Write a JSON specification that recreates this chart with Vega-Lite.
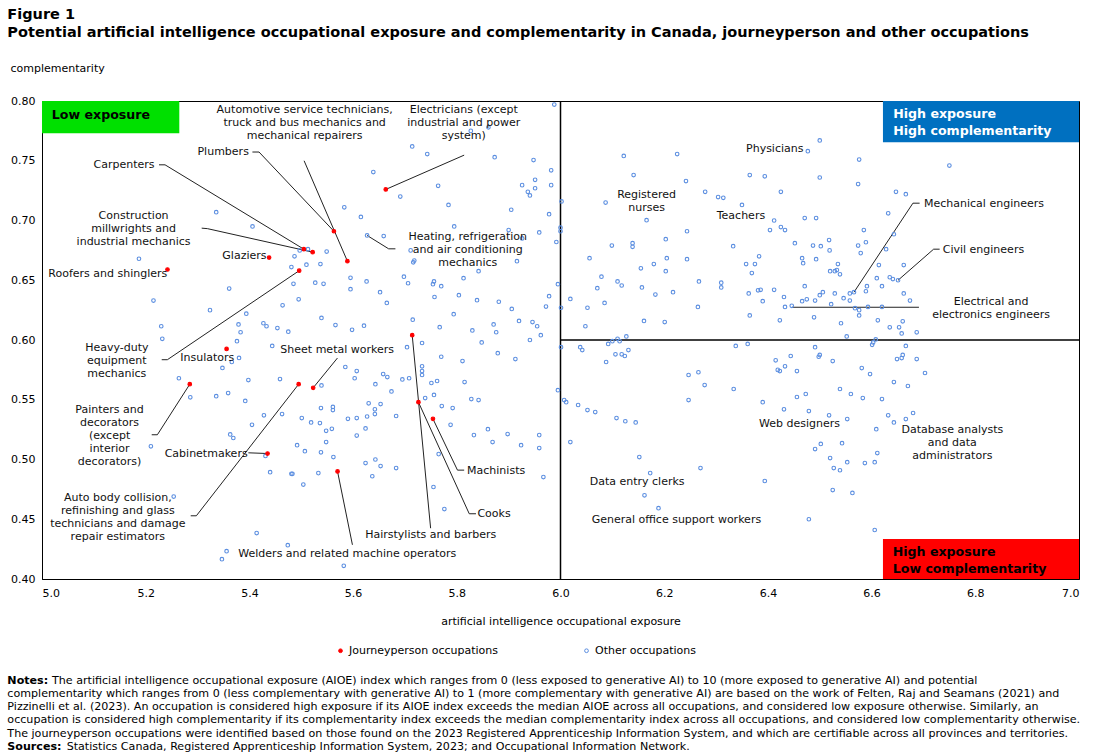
{
"$schema":"https://vega.github.io/schema/vega-lite/v6.json",
"width":1037,"height":478,
"autosize":{"type":"none"},
"padding":{"left":42,"top":101,"right":18,"bottom":177},
"background":"white",
"config":{"font":"DejaVu Sans","view":{"stroke":"#000","strokeWidth":1},
 "axis":{"labelFont":"DejaVu Sans","titleFont":"DejaVu Sans","labelFontSize":11,"titleFontSize":11,"labelColor":"#000","titleColor":"#000","titleFontWeight":"normal","gridColor":"#d9d9d9","gridWidth":1,"domainColor":"#000","ticks":false,"tickSize":0}},
"title":{"text":"Figure 1","subtitle":"Potential artificial  intelligence  occupational  exposure and complementarity in Canada, journeyperson and other occupations","anchor":"start","frame":"bounds","fontSize":14.5,"fontWeight":"bold","color":"#000","subtitleFontSize":14.5,"subtitleFontWeight":"bold","subtitleColor":"#000","subtitleFont":"DejaVu Sans","font":"DejaVu Sans","subtitlePadding":3,"offset":22},
"datasets":{
"points":[
{"aioe":5.639,"comp":0.7405,"type":"Other occupations"},
{"aioe":5.336,"comp":0.707,"type":"Other occupations"},
{"aioe":5.583,"comp":0.711,"type":"Other occupations"},
{"aioe":5.615,"comp":0.703,"type":"Other occupations"},
{"aioe":5.406,"comp":0.695,"type":"Other occupations"},
{"aioe":5.627,"comp":0.6875,"type":"Other occupations"},
{"aioe":5.659,"comp":0.687,"type":"Other occupations"},
{"aioe":5.187,"comp":0.668,"type":"Other occupations"},
{"aioe":5.513,"comp":0.676,"type":"Other occupations"},
{"aioe":5.497,"comp":0.675,"type":"Other occupations"},
{"aioe":5.549,"comp":0.674,"type":"Other occupations"},
{"aioe":5.487,"comp":0.670,"type":"Other occupations"},
{"aioe":5.481,"comp":0.661,"type":"Other occupations"},
{"aioe":5.510,"comp":0.663,"type":"Other occupations"},
{"aioe":5.537,"comp":0.6635,"type":"Other occupations"},
{"aioe":5.595,"comp":0.652,"type":"Other occupations"},
{"aioe":5.626,"comp":0.649,"type":"Other occupations"},
{"aioe":5.485,"comp":0.647,"type":"Other occupations"},
{"aioe":5.527,"comp":0.648,"type":"Other occupations"},
{"aioe":5.543,"comp":0.647,"type":"Other occupations"},
{"aioe":5.595,"comp":0.6425,"type":"Other occupations"},
{"aioe":5.361,"comp":0.643,"type":"Other occupations"},
{"aioe":5.652,"comp":0.640,"type":"Other occupations"},
{"aioe":5.215,"comp":0.633,"type":"Other occupations"},
{"aioe":5.495,"comp":0.634,"type":"Other occupations"},
{"aioe":5.665,"comp":0.631,"type":"Other occupations"},
{"aioe":5.324,"comp":0.625,"type":"Other occupations"},
{"aioe":5.394,"comp":0.622,"type":"Other occupations"},
{"aioe":5.464,"comp":0.629,"type":"Other occupations"},
{"aioe":5.539,"comp":0.6185,"type":"Other occupations"},
{"aioe":5.230,"comp":0.6115,"type":"Other occupations"},
{"aioe":5.379,"comp":0.613,"type":"Other occupations"},
{"aioe":5.427,"comp":0.614,"type":"Other occupations"},
{"aioe":5.433,"comp":0.6115,"type":"Other occupations"},
{"aioe":5.454,"comp":0.610,"type":"Other occupations"},
{"aioe":5.475,"comp":0.607,"type":"Other occupations"},
{"aioe":5.383,"comp":0.6065,"type":"Other occupations"},
{"aioe":5.566,"comp":0.6125,"type":"Other occupations"},
{"aioe":5.598,"comp":0.6085,"type":"Other occupations"},
{"aioe":5.621,"comp":0.612,"type":"Other occupations"},
{"aioe":5.232,"comp":0.601,"type":"Other occupations"},
{"aioe":5.988,"comp":0.797,"type":"Other occupations"},
{"aioe":5.827,"comp":0.775,"type":"Other occupations"},
{"aioe":5.861,"comp":0.778,"type":"Other occupations"},
{"aioe":5.714,"comp":0.762,"type":"Other occupations"},
{"aioe":5.743,"comp":0.7556,"type":"Other occupations"},
{"aioe":5.873,"comp":0.753,"type":"Other occupations"},
{"aioe":5.948,"comp":0.7506,"type":"Other occupations"},
{"aioe":5.982,"comp":0.742,"type":"Other occupations"},
{"aioe":5.951,"comp":0.734,"type":"Other occupations"},
{"aioe":5.926,"comp":0.7296,"type":"Other occupations"},
{"aioe":5.951,"comp":0.727,"type":"Other occupations"},
{"aioe":5.982,"comp":0.7296,"type":"Other occupations"},
{"aioe":5.937,"comp":0.724,"type":"Other occupations"},
{"aioe":5.941,"comp":0.721,"type":"Other occupations"},
{"aioe":5.764,"comp":0.729,"type":"Other occupations"},
{"aioe":5.691,"comp":0.720,"type":"Other occupations"},
{"aioe":5.784,"comp":0.713,"type":"Other occupations"},
{"aioe":5.905,"comp":0.709,"type":"Other occupations"},
{"aioe":6.002,"comp":0.716,"type":"Other occupations"},
{"aioe":5.978,"comp":0.7053,"type":"Other occupations"},
{"aioe":5.795,"comp":0.695,"type":"Other occupations"},
{"aioe":5.900,"comp":0.692,"type":"Other occupations"},
{"aioe":5.926,"comp":0.685,"type":"Other occupations"},
{"aioe":5.959,"comp":0.690,"type":"Other occupations"},
{"aioe":6.000,"comp":0.694,"type":"Other occupations"},
{"aioe":6.000,"comp":0.691,"type":"Other occupations"},
{"aioe":5.992,"comp":0.682,"type":"Other occupations"},
{"aioe":5.711,"comp":0.675,"type":"Other occupations"},
{"aioe":5.718,"comp":0.6665,"type":"Other occupations"},
{"aioe":5.716,"comp":0.665,"type":"Other occupations"},
{"aioe":5.916,"comp":0.666,"type":"Other occupations"},
{"aioe":5.842,"comp":0.6576,"type":"Other occupations"},
{"aioe":5.813,"comp":0.6517,"type":"Other occupations"},
{"aioe":5.698,"comp":0.653,"type":"Other occupations"},
{"aioe":5.706,"comp":0.6475,"type":"Other occupations"},
{"aioe":5.756,"comp":0.649,"type":"Other occupations"},
{"aioe":5.754,"comp":0.6467,"type":"Other occupations"},
{"aioe":5.770,"comp":0.645,"type":"Other occupations"},
{"aioe":5.757,"comp":0.636,"type":"Other occupations"},
{"aioe":5.804,"comp":0.6375,"type":"Other occupations"},
{"aioe":5.839,"comp":0.6333,"type":"Other occupations"},
{"aioe":5.881,"comp":0.632,"type":"Other occupations"},
{"aioe":5.794,"comp":0.6216,"type":"Other occupations"},
{"aioe":5.906,"comp":0.626,"type":"Other occupations"},
{"aioe":5.978,"comp":0.6367,"type":"Other occupations"},
{"aioe":5.972,"comp":0.628,"type":"Other occupations"},
{"aioe":5.995,"comp":0.6467,"type":"Other occupations"},
{"aioe":5.715,"comp":0.617,"type":"Other occupations"},
{"aioe":5.767,"comp":0.6107,"type":"Other occupations"},
{"aioe":5.830,"comp":0.608,"type":"Other occupations"},
{"aioe":5.871,"comp":0.613,"type":"Other occupations"},
{"aioe":5.876,"comp":0.6065,"type":"Other occupations"},
{"aioe":5.920,"comp":0.616,"type":"Other occupations"},
{"aioe":5.946,"comp":0.615,"type":"Other occupations"},
{"aioe":5.955,"comp":0.6115,"type":"Other occupations"},
{"aioe":5.962,"comp":0.604,"type":"Other occupations"},
{"aioe":5.941,"comp":0.600,"type":"Other occupations"},
{"aioe":6.122,"comp":0.754,"type":"Other occupations"},
{"aioe":6.225,"comp":0.7556,"type":"Other occupations"},
{"aioe":6.141,"comp":0.738,"type":"Other occupations"},
{"aioe":6.242,"comp":0.733,"type":"Other occupations"},
{"aioe":6.279,"comp":0.724,"type":"Other occupations"},
{"aioe":6.304,"comp":0.7196,"type":"Other occupations"},
{"aioe":6.314,"comp":0.719,"type":"Other occupations"},
{"aioe":6.087,"comp":0.715,"type":"Other occupations"},
{"aioe":6.166,"comp":0.7003,"type":"Other occupations"},
{"aioe":6.099,"comp":0.679,"type":"Other occupations"},
{"aioe":6.139,"comp":0.681,"type":"Other occupations"},
{"aioe":6.139,"comp":0.678,"type":"Other occupations"},
{"aioe":6.203,"comp":0.6844,"type":"Other occupations"},
{"aioe":6.244,"comp":0.691,"type":"Other occupations"},
{"aioe":6.333,"comp":0.6785,"type":"Other occupations"},
{"aioe":6.056,"comp":0.6685,"type":"Other occupations"},
{"aioe":6.155,"comp":0.660,"type":"Other occupations"},
{"aioe":6.180,"comp":0.6635,"type":"Other occupations"},
{"aioe":6.205,"comp":0.6685,"type":"Other occupations"},
{"aioe":6.203,"comp":0.6576,"type":"Other occupations"},
{"aioe":6.244,"comp":0.6676,"type":"Other occupations"},
{"aioe":6.079,"comp":0.653,"type":"Other occupations"},
{"aioe":6.110,"comp":0.649,"type":"Other occupations"},
{"aioe":6.118,"comp":0.6456,"type":"Other occupations"},
{"aioe":6.071,"comp":0.6434,"type":"Other occupations"},
{"aioe":6.157,"comp":0.644,"type":"Other occupations"},
{"aioe":6.183,"comp":0.638,"type":"Other occupations"},
{"aioe":6.217,"comp":0.640,"type":"Other occupations"},
{"aioe":6.267,"comp":0.649,"type":"Other occupations"},
{"aioe":6.310,"comp":0.648,"type":"Other occupations"},
{"aioe":6.310,"comp":0.644,"type":"Other occupations"},
{"aioe":6.019,"comp":0.6344,"type":"Other occupations"},
{"aioe":6.052,"comp":0.627,"type":"Other occupations"},
{"aioe":6.085,"comp":0.631,"type":"Other occupations"},
{"aioe":6.265,"comp":0.6277,"type":"Other occupations"},
{"aioe":6.048,"comp":0.6115,"type":"Other occupations"},
{"aioe":6.161,"comp":0.616,"type":"Other occupations"},
{"aioe":6.201,"comp":0.615,"type":"Other occupations"},
{"aioe":6.001,"comp":0.627,"type":"Other occupations"},
{"aioe":6.500,"comp":0.767,"type":"Other occupations"},
{"aioe":6.477,"comp":0.758,"type":"Other occupations"},
{"aioe":6.576,"comp":0.751,"type":"Other occupations"},
{"aioe":6.750,"comp":0.746,"type":"Other occupations"},
{"aioe":6.365,"comp":0.738,"type":"Other occupations"},
{"aioe":6.394,"comp":0.737,"type":"Other occupations"},
{"aioe":6.500,"comp":0.736,"type":"Other occupations"},
{"aioe":6.574,"comp":0.7305,"type":"Other occupations"},
{"aioe":6.425,"comp":0.724,"type":"Other occupations"},
{"aioe":6.647,"comp":0.724,"type":"Other occupations"},
{"aioe":6.666,"comp":0.722,"type":"Other occupations"},
{"aioe":6.350,"comp":0.713,"type":"Other occupations"},
{"aioe":6.632,"comp":0.706,"type":"Other occupations"},
{"aioe":6.412,"comp":0.700,"type":"Other occupations"},
{"aioe":6.471,"comp":0.702,"type":"Other occupations"},
{"aioe":6.493,"comp":0.702,"type":"Other occupations"},
{"aioe":6.404,"comp":0.692,"type":"Other occupations"},
{"aioe":6.425,"comp":0.6945,"type":"Other occupations"},
{"aioe":6.433,"comp":0.692,"type":"Other occupations"},
{"aioe":6.585,"comp":0.692,"type":"Other occupations"},
{"aioe":6.643,"comp":0.6885,"type":"Other occupations"},
{"aioe":6.452,"comp":0.681,"type":"Other occupations"},
{"aioe":6.487,"comp":0.679,"type":"Other occupations"},
{"aioe":6.502,"comp":0.6785,"type":"Other occupations"},
{"aioe":6.518,"comp":0.6836,"type":"Other occupations"},
{"aioe":6.519,"comp":0.675,"type":"Other occupations"},
{"aioe":6.574,"comp":0.679,"type":"Other occupations"},
{"aioe":6.589,"comp":0.6818,"type":"Other occupations"},
{"aioe":6.579,"comp":0.6727,"type":"Other occupations"},
{"aioe":6.628,"comp":0.676,"type":"Other occupations"},
{"aioe":6.383,"comp":0.670,"type":"Other occupations"},
{"aioe":6.466,"comp":0.6685,"type":"Other occupations"},
{"aioe":6.468,"comp":0.6643,"type":"Other occupations"},
{"aioe":6.493,"comp":0.6676,"type":"Other occupations"},
{"aioe":6.358,"comp":0.6635,"type":"Other occupations"},
{"aioe":6.375,"comp":0.6635,"type":"Other occupations"},
{"aioe":6.369,"comp":0.656,"type":"Other occupations"},
{"aioe":6.520,"comp":0.6576,"type":"Other occupations"},
{"aioe":6.529,"comp":0.6576,"type":"Other occupations"},
{"aioe":6.533,"comp":0.6585,"type":"Other occupations"},
{"aioe":6.539,"comp":0.655,"type":"Other occupations"},
{"aioe":6.535,"comp":0.6635,"type":"Other occupations"},
{"aioe":6.614,"comp":0.6627,"type":"Other occupations"},
{"aioe":6.662,"comp":0.6627,"type":"Other occupations"},
{"aioe":6.610,"comp":0.6517,"type":"Other occupations"},
{"aioe":6.635,"comp":0.6525,"type":"Other occupations"},
{"aioe":6.641,"comp":0.651,"type":"Other occupations"},
{"aioe":6.651,"comp":0.650,"type":"Other occupations"},
{"aioe":6.363,"comp":0.639,"type":"Other occupations"},
{"aioe":6.381,"comp":0.6416,"type":"Other occupations"},
{"aioe":6.386,"comp":0.642,"type":"Other occupations"},
{"aioe":6.412,"comp":0.642,"type":"Other occupations"},
{"aioe":6.471,"comp":0.645,"type":"Other occupations"},
{"aioe":6.431,"comp":0.636,"type":"Other occupations"},
{"aioe":6.390,"comp":0.6325,"type":"Other occupations"},
{"aioe":6.433,"comp":0.6277,"type":"Other occupations"},
{"aioe":6.446,"comp":0.6286,"type":"Other occupations"},
{"aioe":6.466,"comp":0.6325,"type":"Other occupations"},
{"aioe":6.475,"comp":0.634,"type":"Other occupations"},
{"aioe":6.491,"comp":0.633,"type":"Other occupations"},
{"aioe":6.500,"comp":0.6375,"type":"Other occupations"},
{"aioe":6.506,"comp":0.640,"type":"Other occupations"},
{"aioe":6.522,"comp":0.630,"type":"Other occupations"},
{"aioe":6.529,"comp":0.639,"type":"Other occupations"},
{"aioe":6.546,"comp":0.635,"type":"Other occupations"},
{"aioe":6.558,"comp":0.633,"type":"Other occupations"},
{"aioe":6.558,"comp":0.639,"type":"Other occupations"},
{"aioe":6.566,"comp":0.640,"type":"Other occupations"},
{"aioe":6.568,"comp":0.6266,"type":"Other occupations"},
{"aioe":6.576,"comp":0.625,"type":"Other occupations"},
{"aioe":6.593,"comp":0.6277,"type":"Other occupations"},
{"aioe":6.620,"comp":0.6277,"type":"Other occupations"},
{"aioe":6.589,"comp":0.6408,"type":"Other occupations"},
{"aioe":6.591,"comp":0.645,"type":"Other occupations"},
{"aioe":6.620,"comp":0.645,"type":"Other occupations"},
{"aioe":6.662,"comp":0.639,"type":"Other occupations"},
{"aioe":6.674,"comp":0.633,"type":"Other occupations"},
{"aioe":6.365,"comp":0.6206,"type":"Other occupations"},
{"aioe":6.423,"comp":0.6165,"type":"Other occupations"},
{"aioe":6.489,"comp":0.619,"type":"Other occupations"},
{"aioe":6.541,"comp":0.614,"type":"Other occupations"},
{"aioe":6.576,"comp":0.6206,"type":"Other occupations"},
{"aioe":6.612,"comp":0.6165,"type":"Other occupations"},
{"aioe":6.635,"comp":0.6106,"type":"Other occupations"},
{"aioe":6.653,"comp":0.6106,"type":"Other occupations"},
{"aioe":6.660,"comp":0.6156,"type":"Other occupations"},
{"aioe":6.658,"comp":0.6055,"type":"Other occupations"},
{"aioe":6.687,"comp":0.6064,"type":"Other occupations"},
{"aioe":6.552,"comp":0.603,"type":"Other occupations"},
{"aioe":6.608,"comp":0.6005,"type":"Other occupations"},
{"aioe":5.376,"comp":0.599,"type":"Other occupations"},
{"aioe":5.444,"comp":0.595,"type":"Other occupations"},
{"aioe":5.380,"comp":0.585,"type":"Other occupations"},
{"aioe":5.366,"comp":0.5816,"type":"Other occupations"},
{"aioe":5.348,"comp":0.5766,"type":"Other occupations"},
{"aioe":5.264,"comp":0.568,"type":"Other occupations"},
{"aioe":5.286,"comp":0.552,"type":"Other occupations"},
{"aioe":5.336,"comp":0.553,"type":"Other occupations"},
{"aioe":5.359,"comp":0.5556,"type":"Other occupations"},
{"aioe":5.398,"comp":0.5665,"type":"Other occupations"},
{"aioe":5.459,"comp":0.5673,"type":"Other occupations"},
{"aioe":5.392,"comp":0.549,"type":"Other occupations"},
{"aioe":5.539,"comp":0.562,"type":"Other occupations"},
{"aioe":5.585,"comp":0.5774,"type":"Other occupations"},
{"aioe":5.607,"comp":0.574,"type":"Other occupations"},
{"aioe":5.603,"comp":0.568,"type":"Other occupations"},
{"aioe":5.643,"comp":0.563,"type":"Other occupations"},
{"aioe":5.658,"comp":0.5715,"type":"Other occupations"},
{"aioe":5.666,"comp":0.569,"type":"Other occupations"},
{"aioe":5.674,"comp":0.557,"type":"Other occupations"},
{"aioe":5.428,"comp":0.537,"type":"Other occupations"},
{"aioe":5.463,"comp":0.538,"type":"Other occupations"},
{"aioe":5.405,"comp":0.529,"type":"Other occupations"},
{"aioe":5.501,"comp":0.5347,"type":"Other occupations"},
{"aioe":5.519,"comp":0.531,"type":"Other occupations"},
{"aioe":5.536,"comp":0.5305,"type":"Other occupations"},
{"aioe":5.538,"comp":0.543,"type":"Other occupations"},
{"aioe":5.561,"comp":0.544,"type":"Other occupations"},
{"aioe":5.561,"comp":0.5414,"type":"Other occupations"},
{"aioe":5.548,"comp":0.524,"type":"Other occupations"},
{"aioe":5.559,"comp":0.5257,"type":"Other occupations"},
{"aioe":5.590,"comp":0.534,"type":"Other occupations"},
{"aioe":5.607,"comp":0.5347,"type":"Other occupations"},
{"aioe":5.627,"comp":0.536,"type":"Other occupations"},
{"aioe":5.642,"comp":0.538,"type":"Other occupations"},
{"aioe":5.642,"comp":0.542,"type":"Other occupations"},
{"aioe":5.630,"comp":0.547,"type":"Other occupations"},
{"aioe":5.653,"comp":0.5464,"type":"Other occupations"},
{"aioe":5.624,"comp":0.526,"type":"Other occupations"},
{"aioe":5.607,"comp":0.520,"type":"Other occupations"},
{"aioe":5.548,"comp":0.5146,"type":"Other occupations"},
{"aioe":5.363,"comp":0.521,"type":"Other occupations"},
{"aioe":5.369,"comp":0.518,"type":"Other occupations"},
{"aioe":5.210,"comp":0.511,"type":"Other occupations"},
{"aioe":5.492,"comp":0.512,"type":"Other occupations"},
{"aioe":5.507,"comp":0.507,"type":"Other occupations"},
{"aioe":5.538,"comp":0.506,"type":"Other occupations"},
{"aioe":5.562,"comp":0.502,"type":"Other occupations"},
{"aioe":5.431,"comp":0.503,"type":"Other occupations"},
{"aioe":5.440,"comp":0.4894,"type":"Other occupations"},
{"aioe":5.481,"comp":0.488,"type":"Other occupations"},
{"aioe":5.483,"comp":0.488,"type":"Other occupations"},
{"aioe":5.504,"comp":0.479,"type":"Other occupations"},
{"aioe":5.533,"comp":0.4886,"type":"Other occupations"},
{"aioe":5.624,"comp":0.497,"type":"Other occupations"},
{"aioe":5.643,"comp":0.500,"type":"Other occupations"},
{"aioe":5.653,"comp":0.4945,"type":"Other occupations"},
{"aioe":5.637,"comp":0.486,"type":"Other occupations"},
{"aioe":5.254,"comp":0.469,"type":"Other occupations"},
{"aioe":5.414,"comp":0.4384,"type":"Other occupations"},
{"aioe":5.474,"comp":0.4283,"type":"Other occupations"},
{"aioe":5.356,"comp":0.4233,"type":"Other occupations"},
{"aioe":5.347,"comp":0.4166,"type":"Other occupations"},
{"aioe":5.582,"comp":0.411,"type":"Other occupations"},
{"aioe":5.733,"comp":0.5975,"type":"Other occupations"},
{"aioe":5.704,"comp":0.594,"type":"Other occupations"},
{"aioe":5.848,"comp":0.598,"type":"Other occupations"},
{"aioe":5.879,"comp":0.589,"type":"Other occupations"},
{"aioe":5.913,"comp":0.584,"type":"Other occupations"},
{"aioe":5.770,"comp":0.586,"type":"Other occupations"},
{"aioe":5.811,"comp":0.5824,"type":"Other occupations"},
{"aioe":5.733,"comp":0.578,"type":"Other occupations"},
{"aioe":5.733,"comp":0.574,"type":"Other occupations"},
{"aioe":5.733,"comp":0.5707,"type":"Other occupations"},
{"aioe":5.695,"comp":0.567,"type":"Other occupations"},
{"aioe":5.708,"comp":0.568,"type":"Other occupations"},
{"aioe":5.751,"comp":0.564,"type":"Other occupations"},
{"aioe":5.762,"comp":0.5657,"type":"Other occupations"},
{"aioe":5.815,"comp":0.5648,"type":"Other occupations"},
{"aioe":5.739,"comp":0.5514,"type":"Other occupations"},
{"aioe":5.756,"comp":0.554,"type":"Other occupations"},
{"aioe":5.828,"comp":0.5506,"type":"Other occupations"},
{"aioe":5.842,"comp":0.5497,"type":"Other occupations"},
{"aioe":5.771,"comp":0.5447,"type":"Other occupations"},
{"aioe":5.792,"comp":0.543,"type":"Other occupations"},
{"aioe":5.683,"comp":0.5364,"type":"Other occupations"},
{"aioe":5.788,"comp":0.529,"type":"Other occupations"},
{"aioe":5.833,"comp":0.5204,"type":"Other occupations"},
{"aioe":5.860,"comp":0.5254,"type":"Other occupations"},
{"aioe":5.869,"comp":0.5146,"type":"Other occupations"},
{"aioe":5.898,"comp":0.5213,"type":"Other occupations"},
{"aioe":5.924,"comp":0.512,"type":"Other occupations"},
{"aioe":5.959,"comp":0.5204,"type":"Other occupations"},
{"aioe":5.959,"comp":0.5096,"type":"Other occupations"},
{"aioe":5.765,"comp":0.5045,"type":"Other occupations"},
{"aioe":5.683,"comp":0.4928,"type":"Other occupations"},
{"aioe":5.967,"comp":0.4853,"type":"Other occupations"},
{"aioe":5.755,"comp":0.477,"type":"Other occupations"},
{"aioe":5.776,"comp":0.4585,"type":"Other occupations"},
{"aioe":5.995,"comp":0.558,"type":"Other occupations"},
{"aioe":6.001,"comp":0.594,"type":"Other occupations"},
{"aioe":6.038,"comp":0.594,"type":"Other occupations"},
{"aioe":6.042,"comp":0.5916,"type":"Other occupations"},
{"aioe":6.092,"comp":0.5967,"type":"Other occupations"},
{"aioe":6.100,"comp":0.599,"type":"Other occupations"},
{"aioe":6.110,"comp":0.601,"type":"Other occupations"},
{"aioe":6.114,"comp":0.599,"type":"Other occupations"},
{"aioe":6.127,"comp":0.603,"type":"Other occupations"},
{"aioe":6.106,"comp":0.588,"type":"Other occupations"},
{"aioe":6.118,"comp":0.588,"type":"Other occupations"},
{"aioe":6.124,"comp":0.5866,"type":"Other occupations"},
{"aioe":6.131,"comp":0.5916,"type":"Other occupations"},
{"aioe":6.088,"comp":0.5816,"type":"Other occupations"},
{"aioe":6.247,"comp":0.5707,"type":"Other occupations"},
{"aioe":6.266,"comp":0.573,"type":"Other occupations"},
{"aioe":6.278,"comp":0.5623,"type":"Other occupations"},
{"aioe":6.334,"comp":0.559,"type":"Other occupations"},
{"aioe":6.007,"comp":0.5497,"type":"Other occupations"},
{"aioe":6.011,"comp":0.548,"type":"Other occupations"},
{"aioe":6.034,"comp":0.5456,"type":"Other occupations"},
{"aioe":6.052,"comp":0.5414,"type":"Other occupations"},
{"aioe":6.067,"comp":0.5397,"type":"Other occupations"},
{"aioe":6.108,"comp":0.5347,"type":"Other occupations"},
{"aioe":6.125,"comp":0.532,"type":"Other occupations"},
{"aioe":6.145,"comp":0.531,"type":"Other occupations"},
{"aioe":6.247,"comp":0.5497,"type":"Other occupations"},
{"aioe":6.019,"comp":0.5146,"type":"Other occupations"},
{"aioe":6.152,"comp":0.502,"type":"Other occupations"},
{"aioe":6.173,"comp":0.4886,"type":"Other occupations"},
{"aioe":6.270,"comp":0.4928,"type":"Other occupations"},
{"aioe":6.162,"comp":0.470,"type":"Other occupations"},
{"aioe":6.189,"comp":0.4593,"type":"Other occupations"},
{"aioe":6.338,"comp":0.595,"type":"Other occupations"},
{"aioe":6.361,"comp":0.5967,"type":"Other occupations"},
{"aioe":6.491,"comp":0.594,"type":"Other occupations"},
{"aioe":6.601,"comp":0.596,"type":"Other occupations"},
{"aioe":6.603,"comp":0.598,"type":"Other occupations"},
{"aioe":6.666,"comp":0.595,"type":"Other occupations"},
{"aioe":6.415,"comp":0.583,"type":"Other occupations"},
{"aioe":6.444,"comp":0.5866,"type":"Other occupations"},
{"aioe":6.498,"comp":0.586,"type":"Other occupations"},
{"aioe":6.500,"comp":0.5875,"type":"Other occupations"},
{"aioe":6.525,"comp":0.5824,"type":"Other occupations"},
{"aioe":6.419,"comp":0.575,"type":"Other occupations"},
{"aioe":6.423,"comp":0.574,"type":"Other occupations"},
{"aioe":6.433,"comp":0.578,"type":"Other occupations"},
{"aioe":6.456,"comp":0.574,"type":"Other occupations"},
{"aioe":6.581,"comp":0.5765,"type":"Other occupations"},
{"aioe":6.597,"comp":0.5715,"type":"Other occupations"},
{"aioe":6.649,"comp":0.584,"type":"Other occupations"},
{"aioe":6.658,"comp":0.5849,"type":"Other occupations"},
{"aioe":6.660,"comp":0.5875,"type":"Other occupations"},
{"aioe":6.687,"comp":0.584,"type":"Other occupations"},
{"aioe":6.703,"comp":0.5724,"type":"Other occupations"},
{"aioe":6.643,"comp":0.5648,"type":"Other occupations"},
{"aioe":6.670,"comp":0.5615,"type":"Other occupations"},
{"aioe":6.539,"comp":0.559,"type":"Other occupations"},
{"aioe":6.560,"comp":0.5548,"type":"Other occupations"},
{"aioe":6.473,"comp":0.5548,"type":"Other occupations"},
{"aioe":6.456,"comp":0.5523,"type":"Other occupations"},
{"aioe":6.583,"comp":0.5514,"type":"Other occupations"},
{"aioe":6.620,"comp":0.5506,"type":"Other occupations"},
{"aioe":6.390,"comp":0.548,"type":"Other occupations"},
{"aioe":6.431,"comp":0.542,"type":"Other occupations"},
{"aioe":6.479,"comp":0.5405,"type":"Other occupations"},
{"aioe":6.518,"comp":0.537,"type":"Other occupations"},
{"aioe":6.553,"comp":0.5338,"type":"Other occupations"},
{"aioe":6.632,"comp":0.537,"type":"Other occupations"},
{"aioe":6.643,"comp":0.531,"type":"Other occupations"},
{"aioe":6.666,"comp":0.5338,"type":"Other occupations"},
{"aioe":6.680,"comp":0.5389,"type":"Other occupations"},
{"aioe":6.609,"comp":0.5254,"type":"Other occupations"},
{"aioe":6.491,"comp":0.5087,"type":"Other occupations"},
{"aioe":6.502,"comp":0.513,"type":"Other occupations"},
{"aioe":6.543,"comp":0.5137,"type":"Other occupations"},
{"aioe":6.611,"comp":0.5054,"type":"Other occupations"},
{"aioe":6.520,"comp":0.5012,"type":"Other occupations"},
{"aioe":6.553,"comp":0.4978,"type":"Other occupations"},
{"aioe":6.587,"comp":0.497,"type":"Other occupations"},
{"aioe":6.606,"comp":0.4978,"type":"Other occupations"},
{"aioe":6.527,"comp":0.4928,"type":"Other occupations"},
{"aioe":6.539,"comp":0.491,"type":"Other occupations"},
{"aioe":6.394,"comp":0.482,"type":"Other occupations"},
{"aioe":6.525,"comp":0.4744,"type":"Other occupations"},
{"aioe":6.563,"comp":0.472,"type":"Other occupations"},
{"aioe":6.479,"comp":0.450,"type":"Other occupations"},
{"aioe":6.606,"comp":0.441,"type":"Other occupations"},
{"aioe":5.663,"comp":0.726,"type":"Journeyperson occupations"},
{"aioe":5.563,"comp":0.691,"type":"Journeyperson occupations"},
{"aioe":5.589,"comp":0.666,"type":"Journeyperson occupations"},
{"aioe":5.505,"comp":0.676,"type":"Journeyperson occupations"},
{"aioe":5.522,"comp":0.6735,"type":"Journeyperson occupations"},
{"aioe":5.438,"comp":0.669,"type":"Journeyperson occupations"},
{"aioe":5.242,"comp":0.659,"type":"Journeyperson occupations"},
{"aioe":5.496,"comp":0.658,"type":"Journeyperson occupations"},
{"aioe":5.356,"comp":0.5925,"type":"Journeyperson occupations"},
{"aioe":5.285,"comp":0.563,"type":"Journeyperson occupations"},
{"aioe":5.495,"comp":0.563,"type":"Journeyperson occupations"},
{"aioe":5.523,"comp":0.560,"type":"Journeyperson occupations"},
{"aioe":5.435,"comp":0.505,"type":"Journeyperson occupations"},
{"aioe":5.570,"comp":0.490,"type":"Journeyperson occupations"},
{"aioe":5.714,"comp":0.604,"type":"Journeyperson occupations"},
{"aioe":5.726,"comp":0.548,"type":"Journeyperson occupations"},
{"aioe":5.754,"comp":0.534,"type":"Journeyperson occupations"}
],
"leaders":[
{"leader":"Carpenters","seq":1,"aioe":5.2257,"comp":0.7466},
{"leader":"Carpenters","seq":2,"aioe":5.2373,"comp":0.7466},
{"leader":"Carpenters","seq":3,"aioe":5.505,"comp":0.676},
{"leader":"Plumbers","seq":1,"aioe":5.4058,"comp":0.7573},
{"leader":"Plumbers","seq":2,"aioe":5.4186,"comp":0.7573},
{"leader":"Plumbers","seq":3,"aioe":5.563,"comp":0.691},
{"leader":"Automotive","seq":1,"aioe":5.5055,"comp":0.750},
{"leader":"Automotive","seq":2,"aioe":5.589,"comp":0.666},
{"leader":"Construction","seq":1,"aioe":5.308,"comp":0.6936},
{"leader":"Construction","seq":2,"aioe":5.319,"comp":0.6932},
{"leader":"Construction","seq":3,"aioe":5.522,"comp":0.6735},
{"leader":"Heavy-duty","seq":1,"aioe":5.2309,"comp":0.5835},
{"leader":"Heavy-duty","seq":2,"aioe":5.2418,"comp":0.5835},
{"leader":"Heavy-duty","seq":3,"aioe":5.496,"comp":0.658},
{"leader":"Sheet metal","seq":1,"aioe":5.5698,"comp":0.5849},
{"leader":"Sheet metal","seq":2,"aioe":5.523,"comp":0.560},
{"leader":"Painters","seq":1,"aioe":5.2116,"comp":0.5207},
{"leader":"Painters","seq":2,"aioe":5.2225,"comp":0.5207},
{"leader":"Painters","seq":3,"aioe":5.285,"comp":0.563},
{"leader":"Cabinetmakers","seq":1,"aioe":5.398,"comp":0.5056},
{"leader":"Cabinetmakers","seq":2,"aioe":5.435,"comp":0.505},
{"leader":"Auto body","seq":1,"aioe":5.2868,"comp":0.4529},
{"leader":"Auto body","seq":2,"aioe":5.2977,"comp":0.4529},
{"leader":"Auto body","seq":3,"aioe":5.495,"comp":0.563},
{"leader":"Welders","seq":1,"aioe":5.5987,"comp":0.4286},
{"leader":"Welders","seq":2,"aioe":5.570,"comp":0.490},
{"leader":"Hairstylists","seq":1,"aioe":5.7495,"comp":0.4425},
{"leader":"Hairstylists","seq":2,"aioe":5.714,"comp":0.604},
{"leader":"Cooks","seq":1,"aioe":5.837,"comp":0.4546},
{"leader":"Cooks","seq":2,"aioe":5.824,"comp":0.4546},
{"leader":"Cooks","seq":3,"aioe":5.726,"comp":0.548},
{"leader":"Machinists","seq":1,"aioe":5.8142,"comp":0.4911},
{"leader":"Machinists","seq":2,"aioe":5.8013,"comp":0.4911},
{"leader":"Machinists","seq":3,"aioe":5.754,"comp":0.534},
{"leader":"Electricians","seq":1,"aioe":5.8142,"comp":0.7547},
{"leader":"Electricians","seq":2,"aioe":5.663,"comp":0.726},
{"leader":"Heating","seq":1,"aioe":5.6816,"comp":0.6763},
{"leader":"Heating","seq":2,"aioe":5.6686,"comp":0.6763},
{"leader":"Heating","seq":3,"aioe":5.627,"comp":0.6875},
{"leader":"Mechanical","seq":1,"aioe":6.6926,"comp":0.7145},
{"leader":"Mechanical","seq":2,"aioe":6.6797,"comp":0.7145},
{"leader":"Mechanical","seq":3,"aioe":6.566,"comp":0.640},
{"leader":"Civil","seq":1,"aioe":6.7312,"comp":0.676},
{"leader":"Civil","seq":2,"aioe":6.7196,"comp":0.676},
{"leader":"Civil","seq":3,"aioe":6.651,"comp":0.650},
{"leader":"Electrical","seq":1,"aioe":6.6913,"comp":0.6274},
{"leader":"Electrical","seq":2,"aioe":6.4463,"comp":0.6274}
],
"labelsRight":[
{"label":"Carpenters","aioe":5.217,"comp":0.7467},
{"label":"Plumbers","aioe":5.399,"comp":0.7573},
{"label":"Glaziers","aioe":5.433,"comp":0.6703},
{"label":"Roofers and shinglers","aioe":5.2416,"comp":0.6552},
{"label":"Cabinetmakers","aioe":5.3966,"comp":0.5047}
],
"labelsLeft":[
{"label":"Insulators","aioe":5.2667,"comp":0.5853},
{"label":"Sheet metal workers","aioe":5.4597,"comp":0.5918},
{"label":"Welders and related machine operators","aioe":5.3786,"comp":0.4209},
{"label":"Cooks","aioe":5.8398,"comp":0.4544},
{"label":"Machinists","aioe":5.8198,"comp":0.4907},
{"label":"Mechanical engineers","aioe":6.7011,"comp":0.7141},
{"label":"Civil engineers","aioe":6.7372,"comp":0.6755}
],
"labelsCenter":[
{"label":"Automotive service technicians,\ntruck and bus mechanics and\nmechanical repairers","aioe":5.5066,"comp":0.7922},
{"label":"Electricians (except\nindustrial and power\nsystem)","aioe":5.8134,"comp":0.7928},
{"label":"Construction\nmillwrights and\nindustrial mechanics","aioe":5.1766,"comp":0.7040},
{"label":"Heavy-duty\nequipment\nmechanics","aioe":5.1443,"comp":0.5932},
{"label":"Painters and\ndecorators\n(except\ninterior\ndecorators)","aioe":5.1303,"comp":0.5415},
{"label":"Auto body collision,\nrefinishing and glass\ntechnicians and damage\nrepair estimators","aioe":5.1463,"comp":0.4676},
{"label":"Hairstylists and barbers","aioe":5.7496,"comp":0.4369},
{"label":"Heating, refrigeration\nand air conditioning\nmechanics","aioe":5.8211,"comp":0.6862},
{"label":"Registered\nnurses","aioe":6.166,"comp":0.7210},
{"label":"Teachers","aioe":6.348,"comp":0.704},
{"label":"Physicians","aioe":6.4132,"comp":0.7601},
{"label":"Electrical and\nelectronics engineers","aioe":6.8304,"comp":0.6320},
{"label":"Web designers","aioe":6.4608,"comp":0.5298},
{"label":"Database analysts\nand data\nadministrators","aioe":6.7557,"comp":0.5248},
{"label":"Data entry clerks","aioe":6.1478,"comp":0.4812},
{"label":"General office support workers","aioe":6.2235,"comp":0.4494}
]
},
"layer":[
{"data":{"values":[{}]},"mark":{"type":"rect","color":"#00e000"},"encoding":{"x":{"datum":5.0,"type":"quantitative"},"x2":{"datum":5.2648},"y":{"datum":0.773,"type":"quantitative"},"y2":{"datum":0.8}}},
{"data":{"values":[{}]},"mark":{"type":"rect","color":"#0070c0"},"encoding":{"x":{"datum":6.6219,"type":"quantitative"},"x2":{"datum":7.0},"y":{"datum":0.7654,"type":"quantitative"},"y2":{"datum":0.8}}},
{"data":{"values":[{}]},"mark":{"type":"rect","color":"#ff0000"},"encoding":{"x":{"datum":6.6219,"type":"quantitative"},"x2":{"datum":7.0},"y":{"datum":0.4,"type":"quantitative"},"y2":{"datum":0.4335}}},
{"data":{"values":[{}]},"mark":{"type":"rule","color":"#000","strokeWidth":1.5},"encoding":{"x":{"datum":6.0,"type":"quantitative"}}},
{"data":{"values":[{}]},"mark":{"type":"rule","color":"#000","strokeWidth":1.5},"encoding":{"x":{"datum":6.0,"type":"quantitative"},"x2":{"datum":7.0},"y":{"datum":0.6,"type":"quantitative"}}},
{"data":{"name":"leaders"},"mark":{"type":"line","color":"#222","strokeWidth":1},"encoding":{
  "x":{"field":"aioe","type":"quantitative","title":"artificial intelligence occupational exposure"},
  "y":{"field":"comp","type":"quantitative","title":"complementarity"},
  "detail":{"field":"leader"},"order":{"field":"seq","type":"quantitative"}}},
{"data":{"name":"points"},"mark":{"type":"point","shape":"circle","size":13,"strokeWidth":1.1,"opacity":1},
 "encoding":{
  "x":{"field":"aioe","type":"quantitative","title":"artificial intelligence occupational exposure","scale":{"domain":[5,7],"nice":false,"zero":false},
   "axis":{"values":[5,5.2,5.4,5.6,5.8,6,6.2,6.4,6.6,6.8,7],"format":".1f","labelPadding":8,"titlePadding":17}},
  "y":{"field":"comp","type":"quantitative","title":"complementarity","scale":{"domain":[0.4,0.8],"nice":false,"zero":false},
   "axis":{"values":[0.4,0.45,0.5,0.55,0.6,0.65,0.7,0.75,0.8],"format":".2f","labelPadding":7,"titleAngle":0,"titleAlign":"left","titleBaseline":"middle","titleX":-32,"titleY":-33}},
  "fill":{"field":"type","type":"nominal","scale":{"domain":["Journeyperson occupations","Other occupations"],"range":["#ff0000","transparent"]},"legend":{"title":null,"orient":"none","legendX":293,"legendY":544,"direction":"horizontal","columns":2,"columnPadding":82,"labelFontSize":11,"labelFont":"DejaVu Sans","labelColor":"#000","symbolSize":14,"symbolStrokeWidth":1,"labelOffset":3,"padding":0}},
  "stroke":{"field":"type","type":"nominal","scale":{"domain":["Journeyperson occupations","Other occupations"],"range":["#ff0000","#5b8ee0"]},"legend":{"title":null,"orient":"none","legendX":293,"legendY":544,"direction":"horizontal","columns":2,"columnPadding":82,"labelFontSize":11,"labelFont":"DejaVu Sans","labelColor":"#000","symbolSize":14,"symbolStrokeWidth":1,"labelOffset":3,"padding":0}}
 }},
{"data":{"name":"labelsRight"},"mark":{"type":"text","align":"right","baseline":"middle","fontSize":11,"color":"#111"},"encoding":{
  "x":{"field":"aioe","type":"quantitative","title":"artificial intelligence occupational exposure"},
  "y":{"field":"comp","type":"quantitative","title":"complementarity"},
  "text":{"field":"label"}}},
{"data":{"name":"labelsLeft"},"mark":{"type":"text","align":"left","baseline":"middle","fontSize":11,"color":"#111"},"encoding":{
  "x":{"field":"aioe","type":"quantitative","title":"artificial intelligence occupational exposure"},
  "y":{"field":"comp","type":"quantitative","title":"complementarity"},
  "text":{"field":"label"}}},
{"data":{"name":"labelsCenter"},"mark":{"type":"text","align":"center","baseline":"middle","fontSize":11,"color":"#111","lineBreak":"\n","lineHeight":13},"encoding":{
  "x":{"field":"aioe","type":"quantitative","title":"artificial intelligence occupational exposure"},
  "y":{"field":"comp","type":"quantitative","title":"complementarity"},
  "text":{"field":"label"}}},
{"data":{"values":[{"t":"Low  exposure"}]},"mark":{"type":"text","align":"left","baseline":"middle","fontSize":12.6,"fontWeight":"bold","color":"#000"},"encoding":{"x":{"datum":5.0189,"type":"quantitative"},"y":{"datum":0.788,"type":"quantitative"},"text":{"field":"t"}}},
{"data":{"values":[{"t":"High  exposure\nHigh  complementarity"}]},"mark":{"type":"text","align":"left","baseline":"middle","fontSize":12.6,"fontWeight":"bold","color":"#fff","lineBreak":"\n","lineHeight":16.7},"encoding":{"x":{"datum":6.6417,"type":"quantitative"},"y":{"datum":0.7892,"type":"quantitative"},"text":{"field":"t"}}},
{"data":{"values":[{"t":"High  exposure\nLow  complementarity"}]},"mark":{"type":"text","align":"left","baseline":"middle","fontSize":12.6,"fontWeight":"bold","color":"#000","lineBreak":"\n","lineHeight":17},"encoding":{"x":{"datum":6.6407,"type":"quantitative"},"y":{"datum":0.4224,"type":"quantitative"},"text":{"field":"t"}}},
{"data":{"values":[{"t":"Notes:"}]},"mark":{"type":"text","align":"left","baseline":"middle","fontSize":11.1,"fontWeight":"bold","color":"#000"},"encoding":{"x":{"datum":4.9332,"type":"quantitative"},"y":{"datum":0.315,"type":"quantitative"},"text":{"field":"t"}}},
{"data":{"values":[{"t":"The artificial intelligence occupational exposure (AIOE) index which ranges from 0 (less exposed to generative AI) to 10 (more exposed to generative AI) and potential"}]},"mark":{"type":"text","align":"left","baseline":"middle","fontSize":11.1,"color":"#000"},"encoding":{"x":{"datum":5.0193,"type":"quantitative"},"y":{"datum":0.315,"type":"quantitative"},"text":{"field":"t"}}},
{"data":{"values":[{"t":"complementarity which ranges from 0 (less complementary with generative AI) to 1 (more complementary with generative AI) are based on the work of Felten, Raj and Seamans (2021) and\nPizzinelli et al. (2023). An occupation is considered high exposure if its AIOE index exceeds the median AIOE across all occupations, and considered low exposure otherwise. Similarly, an\noccupation is considered high complementarity if its complementarity index exceeds the median complementarity index across all occupations, and considered low complementarity otherwise.\nThe journeyperson occupations were identified based on those found on the 2023 Registered Apprenticeship Information System, and which are certifiable across all provinces and territories."}]},"mark":{"type":"text","align":"left","baseline":"middle","fontSize":11.1,"color":"#000","lineBreak":"\n","lineHeight":13.3},"encoding":{"x":{"datum":4.9332,"type":"quantitative"},"y":{"datum":0.3039,"type":"quantitative"},"text":{"field":"t"}}},
{"data":{"values":[{"t":"Sources:"}]},"mark":{"type":"text","align":"left","baseline":"middle","fontSize":11.1,"fontWeight":"bold","color":"#000"},"encoding":{"x":{"datum":4.9332,"type":"quantitative"},"y":{"datum":0.2593,"type":"quantitative"},"text":{"field":"t"}}},
{"data":{"values":[{"t":"Statistics Canada, Registered Apprenticeship Information System, 2023; and Occupational Information Network."}]},"mark":{"type":"text","align":"left","baseline":"middle","fontSize":11.1,"color":"#000"},"encoding":{"x":{"datum":5.0475,"type":"quantitative"},"y":{"datum":0.2593,"type":"quantitative"},"text":{"field":"t"}}}
]
}
